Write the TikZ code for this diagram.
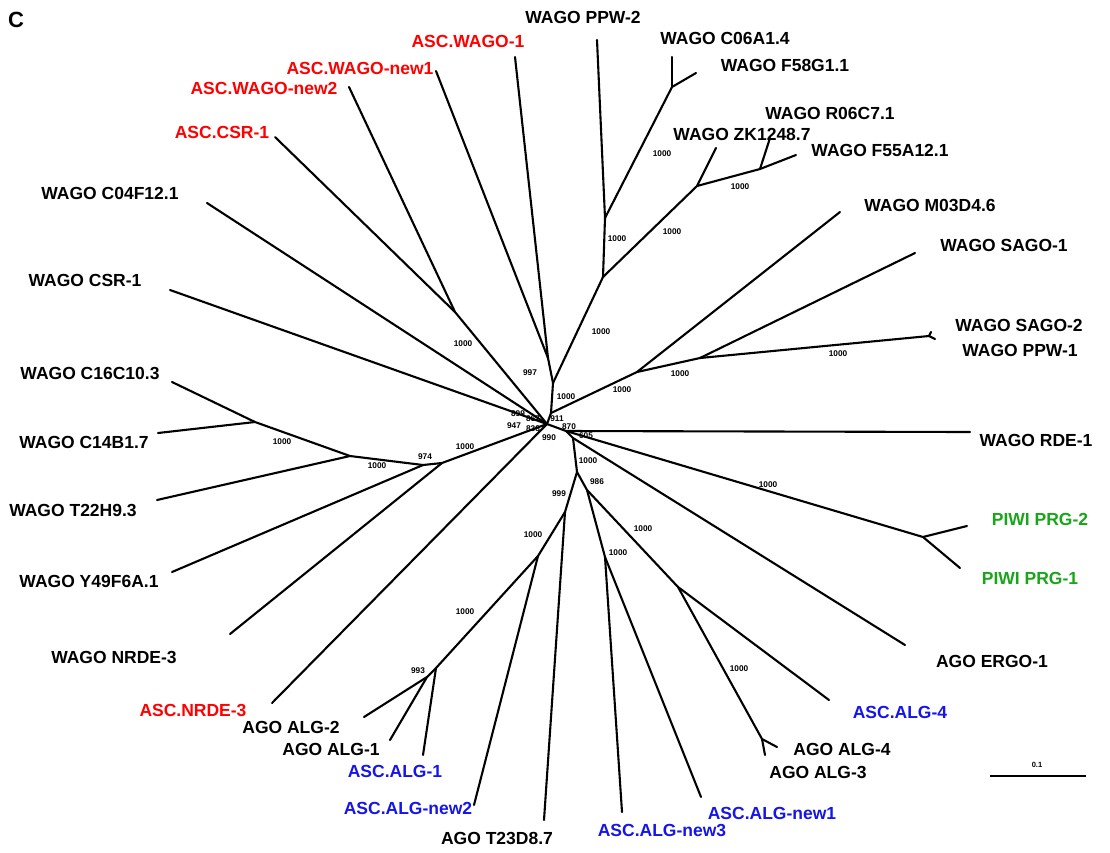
\documentclass[tikz,border=0pt]{standalone}
\usepackage{fontspec}
\setmainfont{Liberation Sans}
\definecolor{ascred}{RGB}{255,0,0}
\definecolor{ascblue}{RGB}{20,20,235}
\definecolor{piwigreen}{RGB}{25,165,25}
\begin{document}
\begin{tikzpicture}[x=1pt,y=-1pt,
  br/.style={line width=2.1pt, line cap=round, line join=round},
  lab/.style={font=\fontsize{17.5}{20}\selectfont\bfseries, inner sep=0pt},
  bs/.style={font=\fontsize{8.3}{10}\selectfont\bfseries, inner sep=0pt},
]
\useasboundingbox (0,0) rectangle (1110,852);
% ---------- internal nodes ----------
\coordinate (A) at (547,424);
\coordinate (B) at (551,413);
\coordinate (F) at (548,358);
\coordinate (C) at (553,383);
\coordinate (G) at (603,277);
\coordinate (H) at (605,218);
\coordinate (J) at (672,87);
\coordinate (I) at (697,186);
\coordinate (K) at (760,169);
\coordinate (D) at (637,372);
\coordinate (L) at (700,358);
\coordinate (M) at (929,336);
\coordinate (E) at (455,312);
\coordinate (U) at (442,463);
\coordinate (V) at (423,465);
\coordinate (W) at (350,456);
\coordinate (X) at (255,422);
\coordinate (P) at (566,431);
\coordinate (Q) at (573,438);
\coordinate (R) at (577,472);
\coordinate (S) at (587,490);
\coordinate (T) at (565,512);
\coordinate (S2) at (678,587);
\coordinate (S3) at (605,557);
\coordinate (S4) at (762,739);
\coordinate (T2) at (538,556);
\coordinate (T3) at (436,668);
\coordinate (T4) at (427,677);
\coordinate (Pw) at (923,537);
% ---------- tips ----------
\coordinate (t-wago1) at (515,57);
\coordinate (t-ppw2) at (597,40);
\coordinate (t-c06) at (672,57);
\coordinate (t-f58) at (696,73);
\coordinate (t-new1) at (436,71);
\coordinate (t-new2) at (349,87);
\coordinate (t-r06) at (770,138);
\coordinate (t-zk) at (716,148);
\coordinate (t-f55) at (796,155);
\coordinate (t-csra) at (275,137);
\coordinate (t-c04) at (207,203);
\coordinate (t-m03) at (840,212);
\coordinate (t-sago1) at (915,253);
\coordinate (t-csr1) at (170,290);
\coordinate (t-sago2) at (931,332);
\coordinate (t-ppw1) at (935,339);
\coordinate (t-c16) at (172,382);
\coordinate (t-rde) at (970,432);
\coordinate (t-c14) at (158,433);
\coordinate (t-t22) at (157,500);
\coordinate (t-prg2) at (967,526);
\coordinate (t-prg1) at (960,568);
\coordinate (t-y49) at (172,572);
\coordinate (t-nrde3) at (230,634);
\coordinate (t-ergo) at (905,645);
\coordinate (t-anrde3) at (272,703);
\coordinate (t-asc4) at (829,700);
\coordinate (t-alg2) at (364,717);
\coordinate (t-alg1) at (390,740);
\coordinate (t-alg4) at (777,747);
\coordinate (t-alg3) at (765,755);
\coordinate (t-asc1) at (423,755);
\coordinate (t-anew2) at (474,805);
\coordinate (t-t23) at (544,820);
\coordinate (t-anew3) at (622,812);
\coordinate (t-anew1) at (701,797);
% ---------- branches ----------
\draw[br] (A) -- (B);
\draw[br] (B) -- (C);
\draw[br] (C) -- (F);
\draw[br] (F) -- (t-wago1);
\draw[br] (F) -- (t-new1);
\draw[br] (C) -- (G);
\draw[br] (G) -- (H);
\draw[br] (H) -- (t-ppw2);
\draw[br] (H) -- (J);
\draw[br] (J) -- (t-c06);
\draw[br] (J) -- (t-f58);
\draw[br] (G) -- (I);
\draw[br] (I) -- (t-zk);
\draw[br] (I) -- (K);
\draw[br] (K) -- (t-r06);
\draw[br] (K) -- (t-f55);
\draw[br] (B) -- (D);
\draw[br] (D) -- (t-m03);
\draw[br] (D) -- (L);
\draw[br] (L) -- (t-sago1);
\draw[br] (L) -- (M);
\draw[br] (M) -- (t-sago2);
\draw[br] (M) -- (t-ppw1);
\draw[br] (A) -- (E);
\draw[br] (E) -- (t-csra);
\draw[br] (E) -- (t-new2);
\draw[br] (A) -- (t-c04);
\draw[br] (A) -- (t-csr1);
\draw[br] (A) -- (U);
\draw[br] (U) -- (t-nrde3);
\draw[br] (U) -- (V);
\draw[br] (V) -- (t-y49);
\draw[br] (V) -- (W);
\draw[br] (W) -- (t-t22);
\draw[br] (W) -- (X);
\draw[br] (X) -- (t-c16);
\draw[br] (X) -- (t-c14);
\draw[br] (A) -- (t-anrde3);
\draw[br] (A) -- (P);
\draw[br] (P) -- (t-rde);
\draw[br] (P) -- (Pw);
\draw[br] (Pw) -- (t-prg2);
\draw[br] (Pw) -- (t-prg1);
\draw[br] (P) -- (Q);
\draw[br] (Q) -- (t-ergo);
\draw[br] (Q) -- (R);
\draw[br] (R) -- (S);
\draw[br] (S) -- (S2);
\draw[br] (S2) -- (t-asc4);
\draw[br] (S2) -- (S4);
\draw[br] (S4) -- (t-alg4);
\draw[br] (S4) -- (t-alg3);
\draw[br] (S) -- (S3);
\draw[br] (S3) -- (t-anew3);
\draw[br] (S3) -- (t-anew1);
\draw[br] (R) -- (T);
\draw[br] (T) -- (t-t23);
\draw[br] (T) -- (T2);
\draw[br] (T2) -- (t-anew2);
\draw[br] (T2) -- (T3);
\draw[br] (T3) -- (t-asc1);
\draw[br] (T3) -- (T4);
\draw[br] (T4) -- (t-alg2);
\draw[br] (T4) -- (t-alg1);
% ---------- leaf labels ----------
\node[lab, text=ascred] (l-wago1) at (468,41) {ASC.WAGO-1};
\node[lab] (l-ppw2) at (583,17) {WAGO PPW-2};
\node[lab] (l-c06) at (725,38) {WAGO C06A1.4};
\node[lab] (l-f58) at (785,65) {WAGO F58G1.1};
\node[lab, text=ascred] (l-new1) at (360,68) {ASC.WAGO-new1};
\node[lab, text=ascred] (l-new2) at (264,88) {ASC.WAGO-new2};
\node[lab] (l-r06) at (830,113) {WAGO R06C7.1};
\node[lab] (l-zk) at (742,134) {WAGO ZK1248.7};
\node[lab] (l-f55) at (880,150) {WAGO F55A12.1};
\node[lab, text=ascred] (l-csra) at (222,132) {ASC.CSR-1};
\node[lab] (l-c04) at (110,193) {WAGO C04F12.1};
\node[lab] (l-m03) at (930,205) {WAGO M03D4.6};
\node[lab] (l-sago1) at (1004,245) {WAGO SAGO-1};
\node[lab] (l-csr1) at (85,280) {WAGO CSR-1};
\node[lab] (l-sago2) at (1019,325) {WAGO SAGO-2};
\node[lab] (l-ppw1) at (1020,350) {WAGO PPW-1};
\node[lab] (l-c16) at (90,373) {WAGO C16C10.3};
\node[lab] (l-rde) at (1036,440) {WAGO RDE-1};
\node[lab] (l-c14) at (84,442) {WAGO C14B1.7};
\node[lab] (l-t22) at (73,510) {WAGO T22H9.3};
\node[lab, text=piwigreen] (l-prg2) at (1040,519) {PIWI PRG-2};
\node[lab, text=piwigreen] (l-prg1) at (1030,578) {PIWI PRG-1};
\node[lab] (l-y49) at (89,581) {WAGO Y49F6A.1};
\node[lab] (l-nrde3) at (114,657) {WAGO NRDE-3};
\node[lab] (l-ergo) at (992,661) {AGO ERGO-1};
\node[lab, text=ascred] (l-anrde3) at (193,710) {ASC.NRDE-3};
\node[lab, text=ascblue] (l-asc4) at (900,712) {ASC.ALG-4};
\node[lab] (l-alg2) at (291,727) {AGO ALG-2};
\node[lab] (l-alg1) at (331,749) {AGO ALG-1};
\node[lab] (l-alg4) at (842,749) {AGO ALG-4};
\node[lab] (l-alg3) at (818,772) {AGO ALG-3};
\node[lab, text=ascblue] (l-asc1) at (395,771) {ASC.ALG-1};
\node[lab, text=ascblue] (l-anew2) at (408,808) {ASC.ALG-new2};
\node[lab] (l-t23) at (497,838) {AGO T23D8.7};
\node[lab, text=ascblue] (l-anew3) at (662,830) {ASC.ALG-new3};
\node[lab, text=ascblue] (l-anew1) at (772,813) {ASC.ALG-new1};
\node[font=\fontsize{22}{24}\selectfont\bfseries, inner sep=0pt] (panel) at (16,20) {C};
% ---------- bootstrap values ----------
\node[bs] (b1) at (463,344) {1000};
\node[bs] (b2) at (530,373) {997};
\node[bs] (b3) at (566,397) {1000};
\node[bs] (b4) at (601,332) {1000};
\node[bs] (b5) at (617,239) {1000};
\node[bs] (b6) at (672,232) {1000};
\node[bs] (b7) at (662,154) {1000};
\node[bs] (b8) at (740,187) {1000};
\node[bs] (b9) at (622,390) {1000};
\node[bs] (b10) at (680,374) {1000};
\node[bs] (b11) at (838,354) {1000};
\node[bs] (b12) at (518,414) {899};
\node[bs] (b13) at (533,419) {867};
\node[bs] (b14) at (514,426) {947};
\node[bs] (b15) at (533,429) {838};
\node[bs] (b16) at (557,419) {911};
\node[bs] (b17) at (549,438) {990};
\node[bs] (b18) at (569,427) {870};
\node[bs] (b19) at (586,436) {605};
\node[bs] (b20) at (588,461) {1000};
\node[bs] (b21) at (597,482) {986};
\node[bs] (b22) at (559,494) {999};
\node[bs] (b23) at (618,553) {1000};
\node[bs] (b24) at (643,529) {1000};
\node[bs] (b25) at (739,669) {1000};
\node[bs] (b26) at (768,485) {1000};
\node[bs] (b27) at (533,535) {1000};
\node[bs] (b28) at (465,612) {1000};
\node[bs] (b29) at (418,671) {993};
\node[bs] (b30) at (465,447) {1000};
\node[bs] (b31) at (425,457) {974};
\node[bs] (b32) at (377,466) {1000};
\node[bs] (b33) at (282,442) {1000};
% ---------- scale bar ----------
\coordinate (sb1) at (990,776);
\coordinate (sb2) at (1086,776);
\draw[line width=1.5pt] (sb1) -- (sb2);
\node[font=\fontsize{7.5}{9}\selectfont\bfseries, inner sep=0pt] (sbl) at (1037,765) {0.1};
\end{tikzpicture}
\end{document}
